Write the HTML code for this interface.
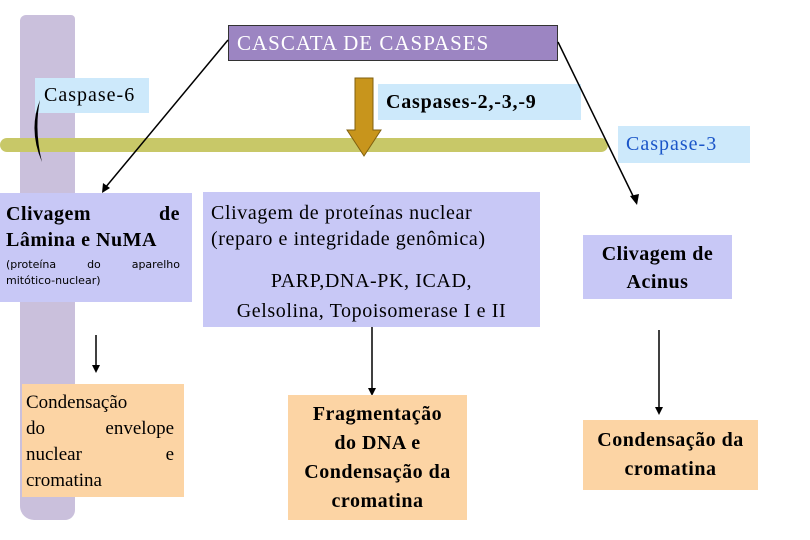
<!DOCTYPE html>
<html><head><meta charset="utf-8"><style>
body{margin:0;width:810px;height:540px;background:#fff;position:relative;overflow:hidden;font-family:"Liberation Serif",serif;}
.b{position:absolute;box-sizing:border-box;white-space:nowrap;}
.lav{background:#c8c8f6;}
.pch{background:#fcd4a4;}
.blu{background:#cde9fb;}
.j{display:flex;justify-content:space-between;}
</style></head><body>
<div class="b" style="left:20px;top:15px;width:55px;height:505px;background:#cac0dc;border-radius:6px 4px 10px 14px;"></div>
<div class="b" style="left:0;top:138px;width:608px;height:14px;background:#c8c868;border-radius:7px;"></div>
<div class="b" style="left:228px;top:25px;width:330px;height:36px;background:#9c85c2;border:1px solid #333;color:#fff;font-size:21px;padding:5px 0 0 8px;letter-spacing:1px;">CASCATA DE CASPASES</div>
<div class="b blu" style="left:35px;top:78px;width:114px;height:35px;font-size:20px;padding:6px 0 0 9px;letter-spacing:1px;">Caspase-6</div>
<div class="b blu" style="left:378px;top:84px;width:203px;height:36px;font-size:20px;padding:7px 0 0 8px;letter-spacing:0.8px;font-weight:bold;">Caspases-2,-3,-9</div>
<div class="b blu" style="left:618px;top:126px;width:132px;height:37px;font-size:20px;padding:7px 0 0 8px;color:#1a55c8;letter-spacing:1px;">Caspase-3</div>
<svg class="b" style="left:0;top:0" width="810" height="540">
<polygon points="355,78 373,78 373,130 381,130 364,156 347,130 355,130" fill="#c8951c" stroke="#806010" stroke-width="1"/>
<path d="M40,100 Q28,130 42,162 Q34,130 40,100Z" fill="#000"/>
<g stroke="#000" stroke-width="1.5" fill="none">
<line x1="228" y1="40" x2="105" y2="188"/>
<line x1="558" y1="42" x2="635" y2="200"/>
<line x1="96" y1="335" x2="96" y2="368"/>
<line x1="372" y1="327" x2="372" y2="392"/>
<line x1="659" y1="330" x2="659" y2="410"/>
</g>
<g fill="#000">
<polygon points="102,193 103,183 110,188"/>
<polygon points="637,205 630,196 639,194"/>
<polygon points="96,373 92,365 100,365"/>
<polygon points="372,396 368,388 376,388"/>
<polygon points="659,415 655,407 663,407"/>
</g>
</svg>
<div class="b lav" style="left:0;top:193px;width:192px;height:109px;padding:8px 12px 0 6px;font-size:20px;line-height:26px;letter-spacing:0.5px;font-weight:bold;">
<div class="j"><span>Clivagem</span><span>de</span></div><div>Lâmina e NuMA</div>
<div class="j" style="font-family:'DejaVu Sans',sans-serif;font-size:11px;line-height:20px;letter-spacing:0;margin-top:2px;font-weight:normal;"><span>(proteína</span><span>do</span><span>aparelho</span></div>
<div style="font-family:'DejaVu Sans',sans-serif;font-size:11px;line-height:12px;letter-spacing:0;font-weight:normal;">mitótico-nuclear)</div></div>
<div class="b lav" style="left:203px;top:192px;width:337px;height:135px;padding:8px 8px 0 8px;font-size:20px;line-height:26px;letter-spacing:0.6px;">Clivagem de proteínas nuclear<br>(reparo e integridade genômica)<div style="text-align:center;margin-top:14px;line-height:30px;">PARP,DNA-PK, ICAD,<br>Gelsolina, Topoisomerase I e II</div></div>
<div class="b lav" style="left:583px;top:235px;width:149px;height:64px;font-size:20px;line-height:28px;text-align:center;padding-top:5px;letter-spacing:0.5px;font-weight:bold;">Clivagem de<br>Acinus</div>
<div class="b pch" style="left:22px;top:384px;width:162px;height:113px;font-size:19px;line-height:26px;padding:6px 10px 0 4px;">
<div>Condensação</div><div class="j"><span>do</span><span>envelope</span></div><div class="j"><span>nuclear</span><span>e</span></div><div>cromatina</div></div>
<div class="b pch" style="left:288px;top:395px;width:179px;height:125px;font-size:20px;line-height:29px;text-align:center;padding-top:5px;letter-spacing:0.5px;font-weight:bold;">Fragmentação<br>do DNA e<br>Condensação da<br>cromatina</div>
<div class="b pch" style="left:583px;top:420px;width:175px;height:70px;font-size:20px;line-height:29px;text-align:center;padding-top:6px;letter-spacing:0.5px;font-weight:bold;">Condensação da<br>cromatina</div>
</body></html>
